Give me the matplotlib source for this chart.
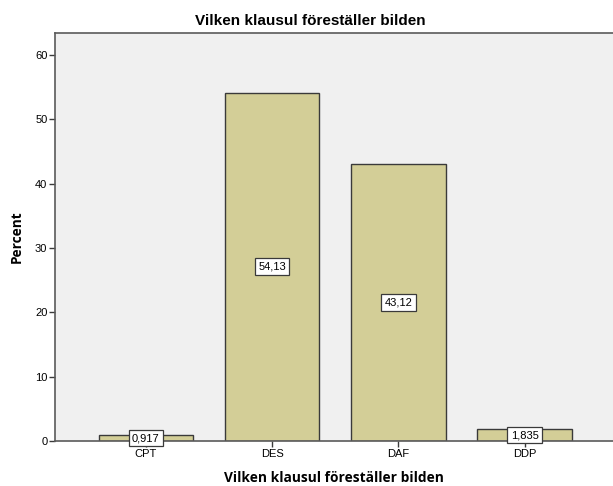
import matplotlib.pyplot as plt

categories = ["CPT", "DES", "DAF", "DDP"]
percent = [0.917, 54.13, 43.12, 1.835]
labels = ["0,917", "54,13", "43,12", "1,835"]

plt.rcParams["font.family"] = ["Liberation Sans", "DejaVu Sans"]

fig = plt.figure(figsize=(6.13, 4.86), dpi=100)
ax = fig.add_axes([55 / 613, 1 - 441 / 486, 1 - 55 / 613, (441 - 33) / 486])
ax.set_facecolor("#f0f0f0")

x = range(len(categories))
ax.bar(x, percent, width=0.75, color="#d3ce97", edgecolor="#3a3a3a", linewidth=1.0, zorder=2)

for xi, val, lab in zip(x, percent, labels):
    ax.text(xi, val / 2, lab, ha="center", va="center", fontsize=8, zorder=3,
            bbox=dict(boxstyle="square,pad=0.3", facecolor="white", edgecolor="#3a3a3a", linewidth=0.9))

ax.set_xlim(-0.72, 3.70)
ax.set_ylim(0, 63.4)
ax.set_yticks([0, 10, 20, 30, 40, 50, 60])
ax.set_xticks(list(x))
ax.set_xticklabels(categories)
ax.tick_params(axis="both", labelsize=8, length=4, width=1, color="#3a3a3a", pad=1.5)

for side in ["left", "bottom", "top"]:
    ax.spines[side].set_color("#5a5a5a")
    ax.spines[side].set_linewidth(1.2)
ax.spines["right"].set_visible(False)

ax.set_ylabel("Percent", fontsize=9.8, fontweight="bold", family="Open Sans", labelpad=8)
ax.set_xlabel("Vilken klausul föreställer bilden", fontsize=9.9, fontweight="bold",
              family="Open Sans", labelpad=9)
fig.text(310 / 613, 1 - 21 / 486, "Vilken klausul föreställer bilden", ha="center", va="center",
         fontsize=11, fontweight="bold")

fig.savefig("out.png", dpi=100)
